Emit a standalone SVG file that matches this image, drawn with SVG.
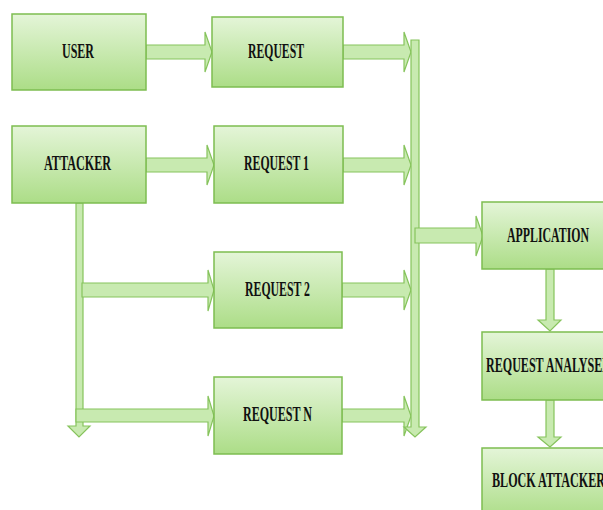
<svg xmlns="http://www.w3.org/2000/svg" width="603" height="510" viewBox="0 0 603 510">
<defs>
<linearGradient id="g" x1="0" y1="0" x2="0" y2="1">
<stop offset="0" stop-color="#e4f5d8"/>
<stop offset="1" stop-color="#acdd87"/>
</linearGradient>
<style>
.box{fill:url(#g);stroke:#7dbd50;stroke-width:1.5}
.arr{fill:#c8eab0;stroke:#86c35c;stroke-width:1.2;stroke-linejoin:miter}
.t{font-family:"Liberation Serif","Times New Roman",serif;font-weight:bold;font-size:21px;fill:#111}
</style>
</defs>
<rect width="603" height="510" fill="#fff"/>
<g id="connectors">
<polygon class="arr" points="146,45 205,45 205,32 212,52 205,72 205,59 146,59"/>
<polygon class="arr" points="146,158 207,158 207,145 214,165 207,185 207,172 146,172"/>
<polygon class="arr" points="343,45 404,45 404,32 411,52 404,72 404,59 343,59"/>
<polygon class="arr" points="343,158 404,158 404,145 411,165 404,185 404,172 343,172"/>
<polygon class="arr" points="342,283 404,283 404,270 411,290 404,310 404,297 342,297"/>
<polygon class="arr" points="342,409 404,409 404,396 411,416 404,436 404,422 342,422"/>
<polygon class="arr" points="411,40 419,40 419,427 426,427 415,437 404,427 411,427"/>
<polygon class="arr" points="415,228 476,228 476,216 483,236 476,256 476,243 415,243"/>
<polygon class="arr" points="76,203 83,203 83,426 90,426 79,437 68,426 76,426"/>
<polygon class="arr" points="82,283 208,283 208,270 214,290 208,311 208,297 82,297"/>
<polygon class="arr" points="76,409 208,409 208,396 214,416 208,436 208,422 76,422"/>
<polygon class="arr" points="546,269 554,269 554,320 561,320 550,331 538,320 546,320"/>
<polygon class="arr" points="546,400 554,400 554,437 561,437 550,447 538,437 546,437"/>
</g>
<g id="user"><rect class="box" x="12" y="14" width="134" height="76"/><text class="t" x="62" y="58" textLength="32" lengthAdjust="spacingAndGlyphs">USER</text></g>
<g id="attacker"><rect class="box" x="12" y="126" width="134" height="77"/><text class="t" x="44" y="170" textLength="67" lengthAdjust="spacingAndGlyphs">ATTACKER</text></g>
<g id="request"><rect class="box" x="212" y="17" width="131" height="70"/><text class="t" x="248" y="58" textLength="56" lengthAdjust="spacingAndGlyphs">REQUEST</text></g>
<g id="request1"><rect class="box" x="214" y="126" width="129" height="77"/><text class="t" x="244" y="170" textLength="65" lengthAdjust="spacingAndGlyphs">REQUEST 1</text></g>
<g id="request2"><rect class="box" x="214" y="252" width="128" height="76"/><text class="t" x="245" y="296" textLength="65" lengthAdjust="spacingAndGlyphs">REQUEST 2</text></g>
<g id="requestN"><rect class="box" x="214" y="377" width="128" height="77"/><text class="t" x="243" y="421" textLength="69" lengthAdjust="spacingAndGlyphs">REQUEST N</text></g>
<g id="application"><rect class="box" x="482" y="202" width="130" height="67"/><text class="t" x="507" y="242" textLength="82" lengthAdjust="spacingAndGlyphs">APPLICATION</text></g>
<g id="analyser"><rect class="box" x="482" y="332" width="130" height="68"/><text class="t" x="486" y="372" textLength="125" lengthAdjust="spacingAndGlyphs">REQUEST ANALYSER</text></g>
<g id="block"><rect class="box" x="482" y="448" width="130" height="70"/><text class="t" x="492" y="487" textLength="113" lengthAdjust="spacingAndGlyphs">BLOCK ATTACKER</text></g>
</svg>
